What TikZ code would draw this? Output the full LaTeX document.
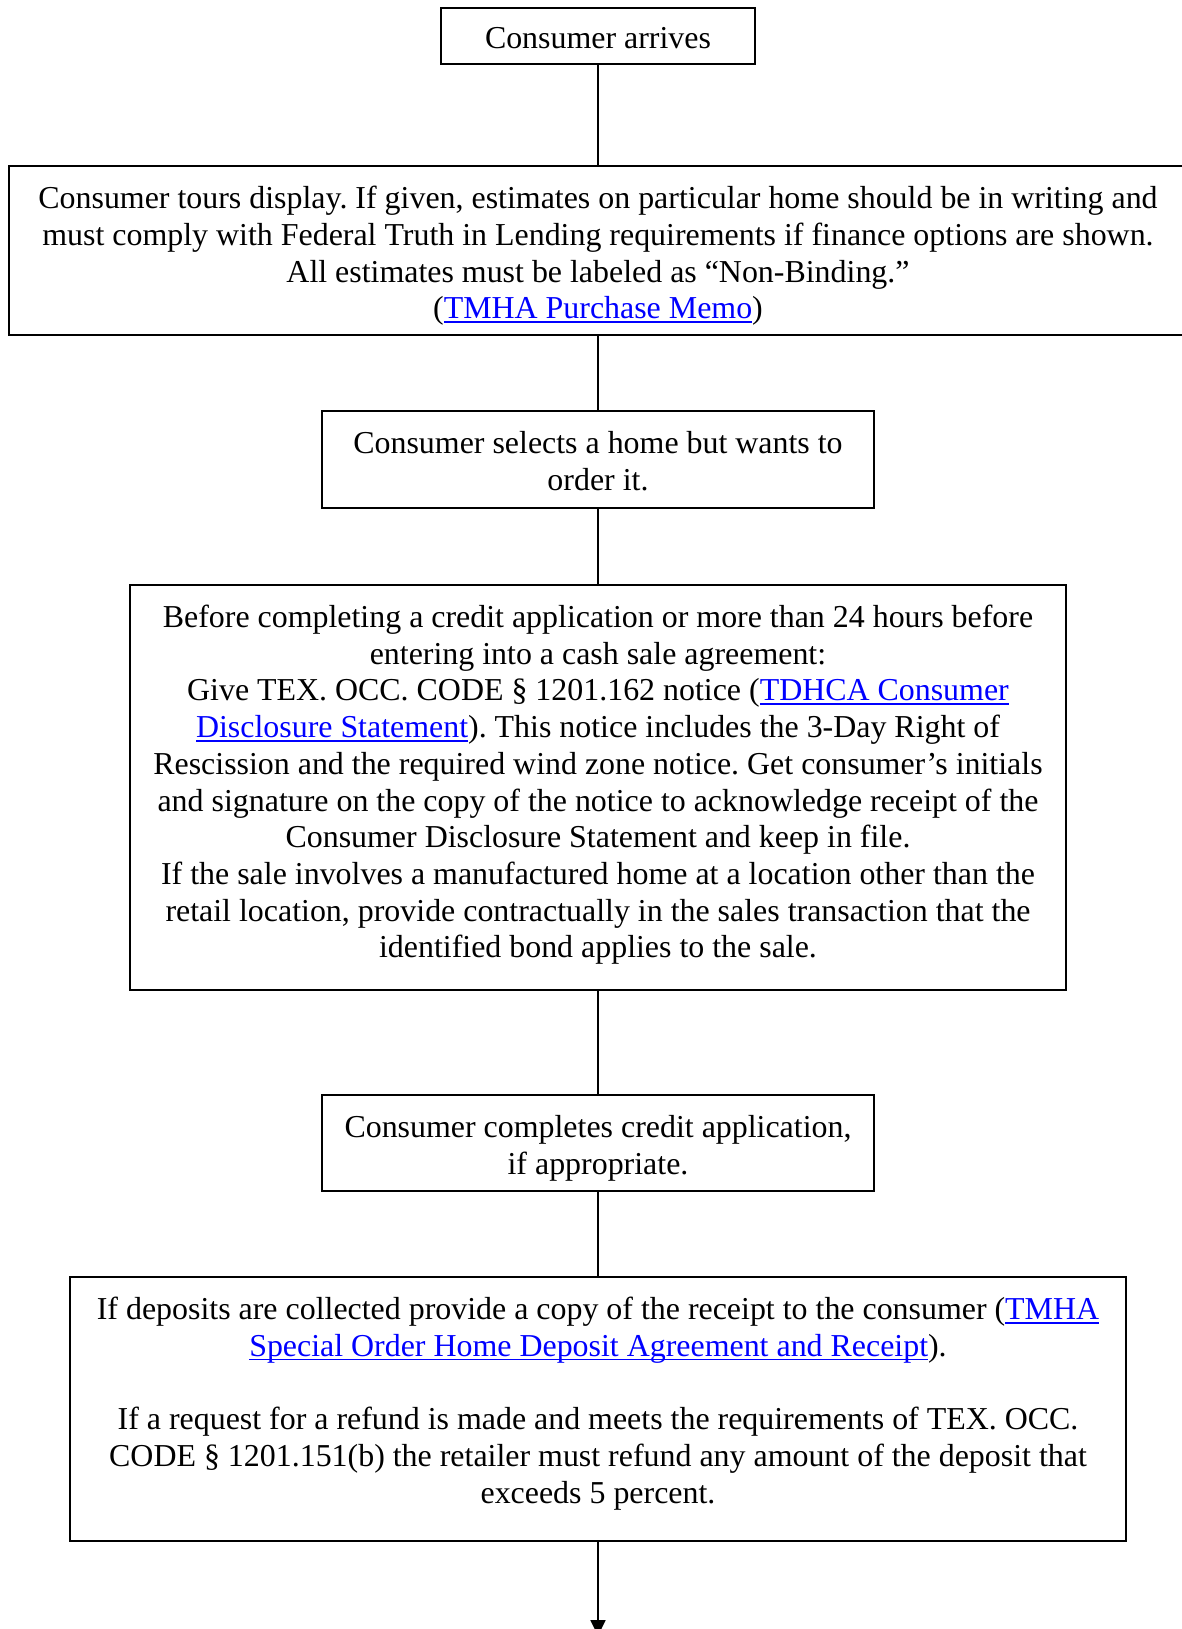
\documentclass[tikz,border=0pt]{standalone}
\usepackage{fontspec}
\setmainfont{Liberation Serif}
\usetikzlibrary{arrows.meta}
\definecolor{linkblue}{RGB}{0,0,255}
\newlength\linkwd
\newcommand\weblink[1]{\settowidth\linkwd{#1}\textcolor{linkblue}{\rlap{\rule[-1.5pt]{\linkwd}{0.6pt}}#1}}

\begin{document}
\begin{tikzpicture}[x=0.376pt, y=-0.376pt,
    stage/.style={draw, line width=0.75pt, align=flush center, inner sep=0pt, text height=16pt,
        font=\fontsize{12pt}{13.8pt}\selectfont\frenchspacing},
    flow/.style={line width=0.75pt}]
        \useasboundingbox (0,0) rectangle (1182,1629);

        % Steps of the special order sale
        \node[stage, minimum width=117.7pt, text width=113pt, text height=15.2pt, text depth=5.7pt] (arrive) at (598,36.2)
            {Consumer arrives};
        \node[stage, minimum width=442.9pt, text width=438pt, text depth=47.5pt] (tour) at (598,250.5)
            {Consumer tours display. If given, estimates on particular home should be in writing and\\
             must comply with Federal Truth in Lending requirements if finance options are shown.\\
             All estimates must be labeled as “Non-Binding.”\\
             (\weblink{TMHA Purchase Memo})};
        \node[stage, minimum width=207.9pt, text width=203pt, text depth=20.5pt] (select) at (598,459.5)
            {Consumer selects a home but wants to\\ order it.};
        \node[stage, minimum width=352.3pt, text width=348pt, text depth=136.3pt] (notice) at (598,787.5)
            {Before completing a credit application or more than 24 hours before\\
             entering into a cash sale agreement:\\
             Give TEX. OCC. CODE § 1201.162 notice (\weblink{TDHCA Consumer}\\
             \weblink{Disclosure Statement}). This notice includes the 3-Day Right of\\
             Rescission and the required wind zone notice. Get consumer’s initials\\
             and signature on the copy of the notice to acknowledge receipt of the\\
             Consumer Disclosure Statement and keep in file.\\
             If the sale involves a manufactured home at a location other than the\\
             retail location, provide contractually in the sales transaction that the\\
             identified bond applies to the sale.};
        \node[stage, minimum width=207.9pt, text width=203pt, text depth=20.1pt] (credit) at (598,1143)
            {Consumer completes credit application,\\ if appropriate.};
        \node[stage, minimum width=397.4pt, text width=393pt, text depth=83.3pt] (deposit) at (598,1409)
            {If deposits are collected provide a copy of the receipt to the consumer (\weblink{TMHA}\\
             \weblink{Special Order Home Deposit Agreement and Receipt}).\\[13.8pt]
             If a request for a refund is made and meets the requirements of TEX. OCC.\\
             CODE § 1201.151(b) the retailer must refund any amount of the deposit that\\
             exceeds 5 percent.};

        % Connectors
        \draw[flow] (arrive.south) -- (tour.north);
        \draw[flow] (tour.south) -- (select.north);
        \draw[flow] (select.south) -- (notice.north);
        \draw[flow] (notice.south) -- (credit.north);
        \draw[flow] (credit.south) -- (deposit.north);
        \coordinate (next) at (598,1636);
        \draw[flow, -{Triangle[length=6pt, width=5.6pt]}] (deposit.south) -- (next);

    \end{tikzpicture}
\end{document}
